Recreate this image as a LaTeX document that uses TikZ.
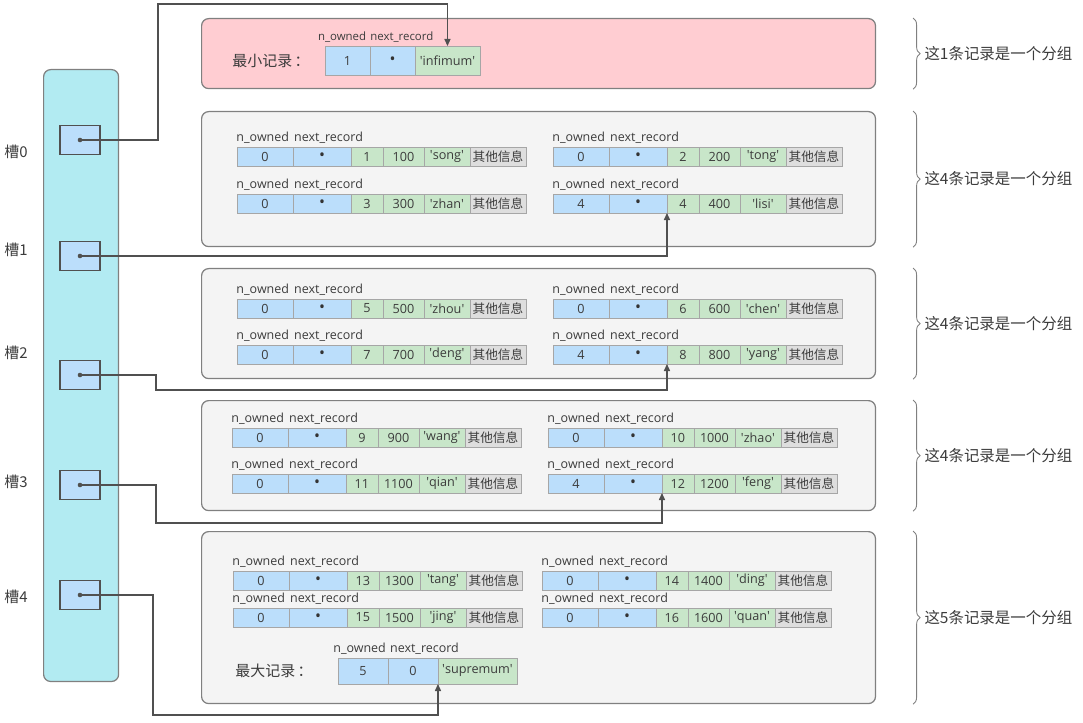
\documentclass[tikz,border=0pt]{standalone}
\usepackage{fontspec}
\setmainfont{Open Sans}
\newfontfamily\cjk{Noto Sans CJK SC}
\usepackage{xcolor}
\usetikzlibrary{arrows.meta,positioning,decorations.pathreplacing}

\definecolor{txt}{HTML}{3C3C3C}
\definecolor{linec}{HTML}{505050}
\definecolor{cellblue}{HTML}{BBDEFB}
\definecolor{cellgreen}{HTML}{C8E6C9}
\definecolor{cellgray}{HTML}{DEDEDE}
\definecolor{slotcyan}{HTML}{B2EBF2}
\definecolor{minpink}{HTML}{FFCDD2}
\definecolor{groupbg}{HTML}{F4F4F4}

\newcommand{\q}[1]{\textquotesingle#1\textquotesingle}
\newcommand{\recdot}{\raisebox{-2pt}{\fontsize{9}{9}\selectfont\textcolor{black!80}{\textbullet}}}

% one user record: #1 name, #2 top-left, #3 n_owned, #4 id, #5 value, #6 key
\newcommand{\userrec}[6]{%
  \node[bcell,minimum width=1.12cm,anchor=north west] (#1-o) at #2 {#3};
  \node[bcell,minimum width=1.16cm,right=0pt of #1-o] (#1-p) {\recdot};
  \node[gcell,minimum width=0.64cm,right=0pt of #1-p] (#1-i) {#4};
  \node[gcell,minimum width=0.82cm,right=0pt of #1-i] (#1-v) {#5};
  \node[gcell,minimum width=0.92cm,right=0pt of #1-v] (#1-k) {\q{#6}};
  \node[xcell,minimum width=1.12cm,right=0pt of #1-k] (#1-x) {\cjk 其他信息};
  \node[fieldlbl,anchor=south west,xshift=-0.5pt] (#1-lo) at (#1-o.north west) {n\_owned};
  \node[fieldlbl,anchor=south west,xshift=0.5pt] (#1-lp) at (#1-p.north west) {next\_record};
}

\begin{document}
\begin{tikzpicture}[
  x=0.02cm, y=-0.02cm, text=txt,
  cell/.style={rectangle,draw=gray!70,line width=0.4pt,inner sep=0pt,outer sep=0pt,
    minimum height=0.38cm,font=\fontsize{7.2}{8}\selectfont},
  bcell/.style={cell,fill=cellblue},
  gcell/.style={cell,fill=cellgreen},
  xcell/.style={cell,fill=cellgray},
  fieldlbl/.style={inner sep=0pt,yshift=2pt,font=\fontsize{7.1}{8}\selectfont},
  grpbox/.style={rectangle,draw=gray,line width=0.7pt,rounded corners=4pt,fill=groupbg,
    minimum width=13.48cm,anchor=north west},
  slotbox/.style={rectangle,draw=linec,line width=0.6pt,fill=cellblue,minimum width=0.8cm,minimum height=0.58cm},
  slotlbl/.style={inner sep=0pt,font=\cjk\fontsize{8.5}{10}\selectfont},
  grpbrace/.style={draw=gray,line width=0.5pt,decorate,decoration={brace,amplitude=0.14cm}},
  bracetxt/.style={inner sep=0pt,font=\cjk\fontsize{8.8}{10}\selectfont},
  reclbl/.style={inner sep=0pt,font=\cjk\fontsize{8.5}{10}\selectfont},
  ptr/.style={draw=linec,line width=0.6pt,-{Triangle[length=4pt,width=3.5pt]}}
]
\useasboundingbox (0,0) rectangle (1083,723);

% page directory
\node[rectangle,draw=gray,line width=0.7pt,rounded corners=4pt,fill=slotcyan,
  minimum width=1.5cm,minimum height=12.24cm,anchor=north west] (dir) at (43,69) {};
\foreach \i/\sy/\ly in {0/140/152,1/256/250,2/375/353,3/485/482,4/595/597}{
  \node[slotbox] (slot\i) at (80,\sy) {};
  \fill[linec] (slot\i.center) circle (1.3pt);
  \node[slotlbl] (slotname\i) at (16,\ly) {槽\i};
}

% groups
\node[grpbox,fill=minpink,minimum height=1.4cm] (g0) at (201,18) {};
\node[grpbox,minimum height=2.7cm] (g1) at (201,111) {};
\node[grpbox,minimum height=2.2cm] (g2) at (201,268) {};
\node[grpbox,minimum height=2.2cm] (g3) at (201,400) {};
\node[grpbox,minimum height=3.44cm] (g4) at (201,531) {};

\foreach \g/\n in {g0/1,g1/4,g2/4,g3/4,g4/5}
  \draw[grpbrace] ([xshift=0.74cm]\g.north east) -- ([xshift=0.74cm]\g.south east)
    node[bracetxt,midway,right=0.22cm] {这\n 条记录是一个分组};

% infimum
\node[bcell,minimum width=0.9cm,minimum height=0.58cm,anchor=north west] (inf-o) at (325,46) {1};
\node[bcell,minimum width=0.9cm,minimum height=0.58cm,right=0pt of inf-o] (inf-p) {\recdot};
\node[gcell,minimum width=1.3cm,minimum height=0.58cm,right=0pt of inf-p] (inf-n) {\q{infimum}};
\node[fieldlbl,font=\fontsize{6.5}{7}\selectfont,anchor=south east,xshift=-2pt] (inf-lo) at (inf-o.north east) {n\_owned};
\node[fieldlbl,font=\fontsize{6.5}{7}\selectfont,anchor=south west] (inf-lp) at (inf-p.north west) {next\_record};
\node[reclbl,anchor=east] (inf-t) at ([xshift=-0.3cm]inf-o.west) {最小记录\,：};

% user records
\userrec{r1a}{(237,147)}{0}{1}{100}{song}
\userrec{r1b}{(553,147)}{0}{2}{200}{tong}
\userrec{r1c}{(237,194)}{0}{3}{300}{zhan}
\userrec{r1d}{(553,194)}{4}{4}{400}{lisi}

\userrec{r2a}{(237,299)}{0}{5}{500}{zhou}
\userrec{r2b}{(553,299)}{0}{6}{600}{chen}
\userrec{r2c}{(237,345)}{0}{7}{700}{deng}
\userrec{r2d}{(553,345)}{4}{8}{800}{yang}

\userrec{r3a}{(232,428)}{0}{9}{900}{wang}
\userrec{r3b}{(548,428)}{0}{10}{1000}{zhao}
\userrec{r3c}{(232,474)}{0}{11}{1100}{qian}
\userrec{r3d}{(548,474)}{4}{12}{1200}{feng}

\userrec{r4a}{(233,571)}{0}{13}{1300}{tang}
\userrec{r4b}{(542,571)}{0}{14}{1400}{ding}
\userrec{r4c}{(233,608)}{0}{15}{1500}{jing}
\userrec{r4d}{(542,608)}{0}{16}{1600}{quan}

% supremum
\node[bcell,minimum width=1cm,minimum height=0.52cm,anchor=north west] (sup-o) at (338,658) {5};
\node[bcell,minimum width=1cm,minimum height=0.52cm,right=0pt of sup-o] (sup-p) {0};
\node[gcell,minimum width=1.58cm,minimum height=0.52cm,right=0pt of sup-p] (sup-n) {\q{supremum}};
\node[fieldlbl,anchor=south east,xshift=-1pt] (sup-lo) at (sup-o.north east) {n\_owned};
\node[fieldlbl,anchor=south west,xshift=1pt] (sup-lp) at (sup-p.north west) {next\_record};
\node[reclbl,anchor=east] (sup-t) at ([xshift=-0.5cm]sup-o.west) {最大记录\,：};

% slot pointers
\draw[ptr] (slot0.center) -| (158,4) -| (inf-n.north);
\draw[ptr] (slot1.center) -| (r1d-p.south east);
\draw[ptr] (slot2.center) -| (156,390) -| (r2d-p.south east);
\draw[ptr] (slot3.center) -| (156,523) -| (r3d-p.south east);
\draw[ptr] (slot4.center) -| (153,715) -| (sup-p.south east);
\end{tikzpicture}
\end{document}
